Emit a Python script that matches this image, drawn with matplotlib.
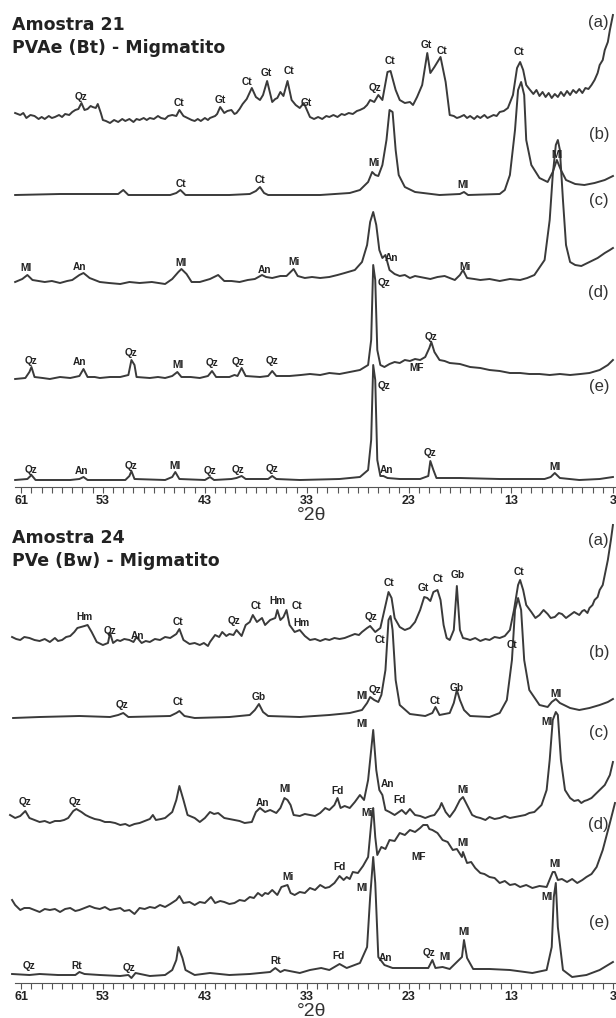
import numpy as np
import matplotlib
matplotlib.use('Agg')
import matplotlib.pyplot as plt
from matplotlib.ticker import FixedLocator

plt.rcParams['font.family'] = ['Liberation Sans', 'DejaVu Sans']

# ------------------------------------------------------------------
# diffractogram data: (2theta, relative intensity)
# ------------------------------------------------------------------
A21_a = [(61.6, 5), (61.1, 3), (60.8, 5), (60.5, 0), (60.1, 3), (59.7, 2), (59.3, -1), (59.0, 1),
         (58.7, -1), (58.3, 2), (58.0, 0), (57.7, 1), (57.3, 3), (57.0, 1), (56.7, 4), (56.3, 3),
         (56.0, 6), (55.7, 8), (55.4, 9), (55.1, 15), (54.8, 8), (54.5, 9), (54.2, 12), (54.0, 11),
         (53.7, 10), (53.5, 14), (53.2, 5), (53.0, -2), (52.7, -3), (52.3, -5), (51.9, -2), (51.5, -4),
         (51.1, -1), (50.8, -3), (50.4, -1), (50.0, -4), (49.7, -1), (49.4, -2), (49.0, 0), (48.7, -2),
         (48.4, 0), (48.0, -1), (47.6, 2), (47.3, 0), (46.9, -1), (46.6, 2), (46.2, 3), (45.8, 2),
         (45.5, 8), (45.1, 2), (44.7, 0), (44.3, -2), (44.0, -3), (43.7, -1), (43.4, -3), (43.0, 0),
         (42.7, -2), (42.5, 0), (42.0, 2), (41.8, 4), (41.5, 11), (41.1, 5), (40.8, 7), (40.4, 8),
         (40.1, 4), (39.9, 5), (39.6, 9), (39.3, 14), (38.9, 19), (38.4, 30), (38.0, 21), (37.6, 18),
         (37.3, 23), (36.9, 37), (36.4, 16), (36.1, 19), (35.9, 20), (35.6, 26), (35.3, 22), (34.9, 37),
         (34.5, 18), (34.1, 13), (33.7, 10), (33.3, 15), (33.0, 8), (32.7, 1), (32.3, -1), (31.9, 1),
         (31.5, -1), (31.1, 2), (30.8, 1), (30.4, 3), (30.0, 1), (29.6, 4), (29.3, 3), (28.9, 5),
         (28.5, 4), (28.1, 7), (27.8, 8), (27.4, 10), (27.1, 13), (26.8, 18), (26.4, 16), (26.0, 23),
         (25.6, 18), (25.1, 46), (24.8, 47), (24.3, 28), (23.9, 18), (23.4, 15), (22.9, 16), (22.6, 13),
         (22.2, 21), (21.7, 33), (21.2, 65), (20.9, 45), (20.5, 51), (19.9, 61), (19.4, 36), (19.0, 3),
         (18.6, 2), (18.3, 0), (18.0, 1), (17.6, 3), (17.3, 0), (17.0, 2), (16.6, -1), (16.3, 2),
         (16.0, 0), (15.6, 3), (15.3, 0), (15.1, 1), (14.7, 3), (14.4, 2), (14.1, 6), (13.7, 7),
         (13.3, 10), (12.8, 23), (12.4, 50), (12.1, 56), (11.8, 48), (11.5, 33), (11.2, 29), (10.8, 24),
         (10.5, 28), (10.2, 22), (9.9, 26), (9.6, 21), (9.3, 25), (9.0, 20), (8.7, 24), (8.4, 21),
         (8.1, 26), (7.8, 22), (7.5, 27), (7.2, 23), (6.9, 28), (6.6, 25), (6.3, 29), (6.0, 25),
         (5.7, 30), (5.4, 29), (5.1, 33), (4.8, 38), (4.5, 45), (4.3, 53), (4.0, 58), (3.8, 68),
         (3.5, 76), (3.3, 88), (3.0, 103)]
A21_b = [(61.6, 0), (57.2, 1), (53.3, 1), (51.5, 1), (51.0, 5), (50.5, 0), (46.4, 0), (45.8, 2),
         (45.4, 5), (44.9, 0), (40.6, 0), (38.6, 1), (38.0, 4), (37.6, 8), (37.2, 2), (36.8, 0),
         (31.7, 0), (28.8, 2), (27.8, 5), (27.0, 13), (26.6, 23), (26.3, 20), (26.0, 19), (25.6, 30),
         (25.2, 55), (24.9, 85), (24.6, 83), (24.3, 45), (24.0, 20), (23.4, 8), (22.4, 3), (20.0, 0),
         (18.0, 1), (17.6, 3), (17.2, 0), (14.1, 1), (13.6, 5), (13.1, 20), (12.6, 65), (12.3, 105),
         (12.0, 113), (11.7, 100), (11.5, 55), (11.0, 30), (10.2, 17), (9.4, 13), (8.9, 23), (8.5, 35),
         (8.1, 25), (7.6, 15), (6.7, 11), (5.8, 10), (4.8, 12), (3.8, 15), (3.0, 19)]
A21_c = [(61.6, -2), (60.9, 1), (60.4, 5), (59.9, 0), (59.3, -1), (58.7, -2), (58.0, -1), (57.2, -3),
         (56.5, -1), (56.0, 0), (55.3, 5), (54.9, 7), (54.3, 2), (53.8, 0), (53.3, -2), (52.4, -3),
         (51.3, -4), (50.4, -2), (49.4, -3), (48.2, -2), (46.9, -4), (46.2, 1), (45.6, 8), (45.3, 11),
         (44.8, 6), (44.3, -2), (43.5, -2), (42.5, 1), (41.7, 5), (41.1, -1), (40.4, -1), (39.6, -2),
         (38.8, 0), (38.1, 1), (37.4, 5), (37.0, 3), (36.4, 2), (35.6, 4), (35.0, 4), (34.3, 11),
         (33.9, 4), (33.2, 2), (32.5, 3), (31.7, 2), (30.8, 3), (30.0, 5), (29.3, 7), (28.3, 10),
         (27.6, 18), (27.1, 35), (26.8, 58), (26.5, 68), (26.2, 55), (25.9, 30), (25.6, 22), (25.3, 25),
         (24.9, 10), (24.4, 6), (23.9, 4), (23.4, 5), (22.9, 2), (22.4, 4), (21.9, 3), (21.4, 2),
         (20.9, 1), (20.2, 3), (19.5, 4), (18.5, 0), (18.0, 5), (17.7, 10), (17.3, 2), (16.6, 1),
         (16.0, 0), (15.1, 1), (14.1, -1), (13.1, 1), (12.1, 0), (11.4, 2), (10.7, 5), (9.7, 20),
         (9.2, 60), (8.9, 105), (8.6, 135), (8.4, 140), (8.2, 130), (7.9, 80), (7.6, 35), (7.2, 18),
         (6.7, 15), (6.1, 14), (5.3, 18), (4.5, 22), (3.8, 27), (3.3, 30), (3.0, 32)]
A21_d = [(61.6, -1), (60.6, 0), (60.2, 6), (60.0, 11), (59.7, 1), (58.9, 0), (58.2, -1), (57.2, 1),
         (56.2, 0), (55.3, 2), (54.9, 9), (54.5, 1), (53.8, 1), (53.3, 0), (52.3, 1), (51.3, 1),
         (50.5, 3), (50.2, 18), (49.9, 13), (49.7, 1), (48.4, 0), (47.6, 1), (46.9, 0), (46.2, 2),
         (45.7, 6), (45.3, 1), (44.4, 1), (43.5, 0), (42.7, 2), (42.3, 7), (41.9, 1), (40.6, 1),
         (40.1, 3), (39.8, 2), (39.4, 10), (39.0, 2), (37.6, 1), (36.8, 2), (36.4, 7), (36.0, 2),
         (34.7, 2), (33.6, 3), (32.7, 4), (31.7, 3), (30.8, 5), (29.8, 4), (28.8, 6), (27.8, 8),
         (27.0, 13), (26.7, 38), (26.5, 113), (26.3, 98), (26.1, 28), (25.8, 13), (25.4, 11), (24.9, 14),
         (24.4, 16), (23.9, 15), (23.4, 18), (22.9, 17), (22.4, 19), (21.9, 18), (21.4, 21), (21.0, 30),
         (20.8, 36), (20.5, 26), (20.0, 18), (19.5, 17), (19.0, 15), (18.0, 14), (17.0, 11), (16.0, 10),
         (15.1, 8), (14.1, 7), (13.1, 5), (12.1, 5), (11.2, 4), (10.2, 4), (9.2, 3), (8.2, 4),
         (7.2, 3), (6.2, 4), (5.3, 5), (4.3, 8), (3.5, 13), (3.0, 18)]
A21_e = [(61.6, 0), (60.4, 1), (60.0, 5), (59.6, 0), (56.2, 0), (55.3, 1), (54.9, 3), (54.5, 0),
         (50.8, 0), (50.4, 4), (50.2, 9), (49.9, 1), (46.9, 0), (46.2, 3), (45.9, 8), (45.5, 1),
         (43.0, 0), (42.5, 3), (42.1, 0), (40.4, 1), (39.9, 2), (39.4, 4), (39.0, 1), (36.8, 1),
         (36.4, 4), (36.0, 1), (33.7, 0), (29.8, 1), (27.8, 3), (27.0, 10), (26.7, 40), (26.5, 115),
         (26.3, 100), (26.1, 20), (25.8, 4), (25.5, 4), (25.1, 2), (23.9, 1), (21.9, 1), (21.1, 4),
         (20.9, 19), (20.6, 10), (20.3, 2), (18.0, 2), (14.1, 1), (9.7, 1), (9.1, 3), (8.7, 7),
         (8.2, 2), (6.3, 0), (4.3, 1), (3.0, 3)]

A24_a = [(61.9, 3), (61.5, 1), (61.1, 0), (60.7, 3), (60.2, 2), (59.7, 0), (59.2, -1), (58.7, 1),
         (58.2, -2), (57.7, 2), (57.4, -1), (57.0, 0), (56.6, 3), (56.2, 4), (55.8, 8), (55.5, 12),
         (54.8, 14), (54.5, 15), (54.1, 8), (53.6, -2), (53.0, -5), (52.5, -3), (52.3, 7), (52.0, -3),
         (51.6, 0), (51.3, -1), (50.9, 1), (50.4, 0), (50.0, -2), (49.7, 3), (49.2, -3), (48.8, -1),
         (48.4, -2), (47.9, 1), (47.4, 0), (46.9, 3), (46.4, 2), (45.8, 6), (45.5, 11), (45.1, 0),
         (44.8, -2), (44.5, -4), (44.0, -3), (43.5, -5), (43.1, -3), (42.7, -6), (42.5, -2), (42.0, 5),
         (41.6, 3), (41.3, 8), (40.9, 4), (40.6, 6), (40.2, 5), (39.9, 10), (39.4, 4), (39.0, 15),
         (38.6, 18), (38.3, 25), (37.9, 18), (37.4, 22), (37.1, 15), (36.6, 20), (36.1, 22), (35.9, 30),
         (35.6, 20), (35.3, 23), (35.0, 30), (34.7, 15), (34.2, 8), (33.7, 10), (33.2, 4), (32.7, 0),
         (32.2, 1), (31.7, -1), (31.2, 1), (30.8, 0), (30.3, 2), (29.8, 1), (29.3, 2), (28.8, 4),
         (28.3, 6), (27.9, 5), (27.6, 8), (27.1, 12), (26.8, 14), (26.3, 8), (25.8, 12), (25.4, 30),
         (25.0, 48), (24.7, 42), (24.4, 22), (23.9, 13), (23.4, 10), (22.9, 12), (22.4, 18), (21.9, 30),
         (21.5, 43), (21.2, 42), (20.9, 39), (20.6, 48), (20.2, 50), (19.9, 40), (19.6, 15), (19.3, 2),
         (19.0, 0), (18.6, 10), (18.3, 54), (18.0, 10), (17.7, 2), (17.3, 1), (17.0, 0), (16.5, 2),
         (16.0, -1), (15.5, 1), (15.1, 0), (14.6, 3), (14.1, 2), (13.6, 4), (13.1, 10), (12.7, 30),
         (12.3, 55), (12.1, 60), (11.8, 50), (11.5, 35), (11.0, 28), (10.6, 22), (10.2, 25), (9.8, 30),
         (9.4, 26), (9.1, 22), (8.7, 23), (8.3, 27), (8.0, 26), (7.6, 22), (7.2, 25), (6.8, 28),
         (6.3, 25), (6.0, 29), (5.8, 30), (5.5, 27), (5.3, 32), (5.0, 35), (4.8, 40), (4.5, 43),
         (4.3, 50), (4.0, 55), (3.8, 65), (3.5, 80), (3.2, 100), (3.0, 115)]
A24_b = [(61.8, -1), (59.2, 0), (55.3, 1), (52.3, 0), (51.5, 2), (51.0, 4), (50.5, 0), (46.4, 1),
         (45.8, 4), (45.5, 6), (45.0, 1), (44.0, -1), (40.6, 0), (38.6, 2), (38.1, 7), (37.7, 13),
         (37.3, 5), (36.8, 1), (33.7, 0), (30.8, 2), (28.8, 4), (27.6, 7), (27.1, 14), (26.8, 20),
         (26.4, 17), (26.0, 15), (25.7, 22), (25.3, 47), (25.0, 97), (24.8, 101), (24.6, 87), (24.3, 37),
         (23.9, 12), (22.9, 3), (21.4, 1), (20.7, 4), (20.4, 10), (20.0, 2), (19.0, 4), (18.6, 14),
         (18.3, 27), (18.0, 17), (17.6, 7), (17.0, 1), (15.1, 0), (14.1, 4), (13.4, 17), (12.9, 57),
         (12.6, 107), (12.3, 119), (12.0, 107), (11.7, 57), (11.2, 27), (10.2, 12), (9.4, 10), (9.0, 15),
         (8.6, 18), (8.2, 14), (7.2, 9), (6.3, 7), (5.3, 9), (4.3, 12), (3.5, 15), (3.0, 18)]
A24_c = [(62.1, 5), (61.6, 2), (61.1, 4), (60.6, 9), (60.2, 2), (59.7, 0), (59.2, -2), (58.7, -1),
         (58.2, -3), (57.7, -1), (57.2, -1), (56.8, 0), (56.4, 2), (55.9, 9), (55.6, 11), (55.1, 8),
         (54.7, 5), (54.3, 3), (53.8, 1), (53.3, 0), (52.8, -2), (52.3, -2), (51.8, -3), (51.3, -5),
         (50.8, -4), (50.4, -6), (49.9, -4), (49.4, -3), (48.9, -1), (48.4, 1), (48.1, 5), (47.8, 0),
         (47.3, 1), (46.9, 2), (46.2, 8), (45.8, 20), (45.5, 34), (45.1, 20), (44.7, 5), (44.0, 2),
         (43.5, -2), (43.0, 2), (42.5, 8), (42.1, 6), (41.7, 7), (41.1, 2), (40.6, 1), (40.1, 0),
         (39.6, -1), (39.1, -3), (38.4, -2), (38.0, 8), (37.6, 12), (37.1, 8), (36.6, 10), (36.0, 7),
         (35.6, 12), (35.2, 22), (34.9, 20), (34.6, 15), (34.3, 5), (33.7, 4), (33.2, 6), (32.7, 5),
         (32.2, 4), (31.7, 7), (31.2, 12), (30.8, 10), (30.3, 15), (30.0, 22), (29.7, 12), (29.3, 14),
         (28.8, 12), (28.3, 18), (27.8, 25), (27.4, 20), (27.0, 40), (26.7, 70), (26.5, 90), (26.2, 50),
         (25.9, 30), (25.6, 25), (25.3, 10), (24.9, 8), (24.4, 5), (23.7, 10), (23.3, 6), (22.9, 11),
         (22.4, 5), (21.9, 4), (21.4, 2), (20.9, 4), (20.5, 5), (20.0, 12), (19.8, 17), (19.4, 8),
         (19.0, 3), (18.5, 10), (18.0, 20), (17.7, 23), (17.3, 15), (16.8, 5), (16.4, 3), (16.0, 2),
         (15.5, 0), (15.1, 3), (14.6, 1), (14.1, 2), (13.6, 4), (13.1, 2), (12.6, 3), (12.1, 4),
         (11.6, 5), (11.2, 7), (10.7, 8), (10.0, 15), (9.5, 30), (9.2, 60), (8.9, 100), (8.6, 108),
         (8.4, 105), (8.1, 60), (7.7, 30), (7.2, 22), (6.8, 19), (6.4, 20), (6.1, 17), (5.8, 19),
         (5.5, 20), (5.1, 22), (4.8, 25), (4.3, 30), (3.8, 35), (3.3, 45), (3.0, 58)]
A24_d = [(61.9, 7), (61.6, 2), (61.1, -3), (60.7, -1), (60.2, -1), (59.7, -3), (59.2, -5), (58.7, -2),
         (58.2, -3), (57.7, -2), (57.2, -5), (56.7, -2), (56.2, -1), (55.7, -4), (55.3, -3), (54.8, -1),
         (54.3, 1), (53.8, -1), (53.3, -2), (52.8, 0), (52.3, -3), (51.8, -2), (51.3, -1), (50.9, -4),
         (50.4, -3), (49.9, -7), (49.4, -1), (48.9, -2), (48.4, 0), (47.9, -1), (47.4, 2), (46.9, 0),
         (46.4, 3), (45.8, 7), (45.5, 11), (45.1, 4), (44.5, 5), (44.0, 2), (43.5, 5), (43.0, 4),
         (42.4, 10), (42.0, 4), (41.5, 6), (41.1, 5), (40.6, 3), (40.1, 4), (39.6, 7), (39.1, 6),
         (38.6, 10), (38.2, 9), (37.8, 14), (37.4, 11), (37.1, 14), (36.8, 13), (36.4, 17), (35.9, 12),
         (35.5, 20), (34.9, 22), (34.6, 14), (34.2, 12), (33.7, 15), (33.2, 14), (32.7, 19), (32.2, 17),
         (31.7, 22), (31.2, 19), (30.8, 20), (30.3, 24), (29.8, 31), (29.4, 27), (29.1, 30), (28.8, 28),
         (28.5, 35), (28.0, 34), (27.5, 41), (27.0, 50), (26.6, 94), (26.5, 99), (26.3, 70), (26.1, 52),
         (25.7, 60), (25.3, 58), (24.9, 67), (24.4, 66), (23.9, 74), (23.4, 72), (22.9, 77), (22.4, 75),
         (21.9, 79), (21.6, 82), (21.2, 82), (21.0, 78), (20.7, 77), (20.2, 74), (19.7, 67), (19.2, 65),
         (18.7, 57), (18.3, 58), (17.8, 50), (17.7, 55), (17.3, 44), (16.9, 45), (16.5, 39), (16.0, 34),
         (15.6, 33), (15.1, 30), (14.6, 29), (14.1, 24), (13.6, 26), (13.1, 22), (12.6, 23), (12.1, 20),
         (11.5, 22), (10.9, 19), (10.2, 21), (9.5, 20), (8.9, 35), (8.7, 35), (8.4, 27), (8.0, 28),
         (7.5, 25), (7.0, 28), (6.5, 24), (6.0, 27), (5.6, 30), (5.1, 33), (4.6, 40), (4.0, 57),
         (3.3, 84), (2.8, 104)]
A24_e = [(61.9, 1), (60.2, 0), (59.2, 1), (57.4, 0), (55.7, 0), (55.3, 3), (54.8, 1), (53.3, 0),
         (51.3, -1), (50.5, 0), (50.2, -3), (49.8, 2), (48.4, -1), (46.9, 0), (46.2, 5), (45.8, 15),
         (45.6, 28), (45.2, 17), (44.9, 5), (44.0, 0), (42.5, 2), (40.6, 0), (38.6, 1), (36.6, 3),
         (36.1, 7), (35.6, 3), (35.2, 5), (33.7, 2), (32.7, 5), (31.6, 7), (30.8, 5), (29.8, 11),
         (29.1, 7), (27.8, 12), (27.1, 28), (26.8, 78), (26.5, 118), (26.3, 92), (26.0, 18), (25.4, 10),
         (24.6, 7), (22.9, 7), (21.1, 7), (20.7, 15), (20.4, 7), (19.7, 8), (19.0, 6), (17.8, 18),
         (17.6, 35), (17.3, 17), (16.7, 6), (15.1, 6), (13.1, 5), (10.9, 2), (9.5, 5), (9.0, 28),
         (8.8, 78), (8.6, 92), (8.4, 48), (7.9, 5), (7.0, -2), (5.6, 0), (4.3, 5), (3.0, 13)]

TRACE_NAMES = ['(a)', '(b)', '(c)', '(d)', '(e)']

# mineral labels: (2theta, height above axis, text)
A21_labels = [(55.1, 390, 'Qz'), (45.5, 384, 'Ct'), (41.5, 387, 'Gt'), (38.9, 405, 'Ct'), (37.0, 414, 'Gt'),
              (34.8, 416, 'Ct'), (33.1, 384, 'Gt'), (26.3, 399, 'Qz'), (24.9, 426, 'Ct'), (21.3, 442, 'Gt'),
              (19.8, 436, 'Ct'), (12.2, 435, 'Ct'),
              (45.3, 303, 'Ct'), (37.6, 307, 'Ct'), (26.4, 324, 'Mi'), (17.7, 302, 'Ml'), (8.5, 332, 'Ml'),
              (60.5, 219, 'Ml'), (55.3, 220, 'An'), (45.3, 224, 'Ml'), (37.2, 217, 'An'), (34.3, 225, 'Mi'),
              (24.7, 229, 'An'), (17.5, 220, 'Mi'),
              (60.0, 126, 'Qz'), (55.3, 125, 'An'), (50.2, 134, 'Qz'), (45.6, 122, 'Ml'), (42.3, 124, 'Qz'),
              (39.8, 125, 'Qz'), (36.4, 126, 'Qz'), (25.4, 204, 'Qz'), (20.8, 150, 'Qz'), (22.2, 119, 'MF'),
              (60.0, 17, 'Qz'), (55.1, 16, 'An'), (50.2, 21, 'Qz'), (45.9, 21, 'Ml'), (42.5, 16, 'Qz'),
              (39.8, 17, 'Qz'), (36.4, 18, 'Qz'), (25.4, 101, 'Qz'), (25.2, 17, 'An'), (20.9, 34, 'Qz'),
              (8.7, 20, 'Ml')]
A24_labels = [(54.8, 366, 'Hm'), (52.3, 352, 'Qz'), (49.6, 347, 'An'), (45.6, 361, 'Ct'), (40.1, 362, 'Qz'),
              (38.0, 377, 'Ct'), (35.9, 382, 'Hm'), (34.0, 377, 'Ct'), (33.5, 360, 'Hm'), (26.7, 366, 'Qz'),
              (25.0, 400, 'Ct'), (21.6, 395, 'Gt'), (20.2, 404, 'Ct'), (18.2, 408, 'Gb'), (12.2, 411, 'Ct'),
              (51.1, 278, 'Qz'), (45.6, 281, 'Ct'), (37.7, 286, 'Gb'), (25.8, 343, 'Ct'), (12.9, 338, 'Ct'),
              (27.6, 287, 'Ml'), (26.3, 293, 'Qz'), (20.4, 282, 'Ct'), (18.3, 295, 'Gb'), (8.6, 289, 'Ml'),
              (60.6, 181, 'Qz'), (55.7, 181, 'Qz'), (37.4, 180, 'An'), (35.1, 194, 'Ml'), (30.0, 192, 'Fd'),
              (27.6, 259, 'Ml'), (25.1, 199, 'An'), (23.9, 183, 'Fd'), (17.7, 193, 'Mi'), (9.5, 261, 'Ml'),
              (34.9, 106, 'Mi'), (29.8, 116, 'Fd'), (27.1, 170, 'Mi'), (22.0, 126, 'MF'), (17.7, 140, 'Ml'),
              (8.7, 119, 'Ml'),
              (60.2, 17, 'Qz'), (55.6, 17, 'Rt'), (50.4, 15, 'Qz'), (36.1, 22, 'Rt'), (29.9, 27, 'Fd'),
              (27.6, 95, 'Ml'), (25.3, 25, 'An'), (21.0, 30, 'Qz'), (19.5, 26, 'Ml'), (17.6, 51, 'Ml'),
              (9.5, 86, 'Ml')]

A21_offsets = [369, 292, 207, 109, 7]
A24_offsets = [343, 266, 163, 76, 8]

tick_major = [61, 53, 43, 33, 23, 13, 3]

W, H = 616, 1018
fig = plt.figure(figsize=(W / 100, H / 100), dpi=100)


def px(x, y):
    return x / W, 1 - y / H


def panel(top, axis_y, traces, offsets, labels, title1, title2, title_y, name_ys):
    ax = fig.add_axes([8 / W, 1 - axis_y / H, 608 / W, (axis_y - top) / H])
    ax.patch.set_alpha(0)
    ax.set_xlim(62.3, 2.7)
    ax.set_ylim(0, axis_y - top)
    for tr, off in zip(traces, offsets):
        d = np.array(tr, dtype=float)
        ax.plot(d[:, 0], d[:, 1] + off, color='#3a3a3a', lw=1.4, clip_on=False)
    for xt, yt, s in labels:
        ax.text(xt, yt, s, ha='center', va='center', fontsize=7.3, fontweight='bold', color='#222222')
    for sp in ['left', 'right', 'top']:
        ax.spines[sp].set_visible(False)
    ax.spines['bottom'].set_bounds(61.6, 2.7)
    ax.spines['bottom'].set_color('#555555')
    ax.set_yticks([])
    ax.xaxis.set_major_locator(FixedLocator(tick_major))
    ax.xaxis.set_minor_locator(FixedLocator(np.arange(3, 62, 1)))
    ax.set_xticklabels([str(t) for t in tick_major], fontsize=9, fontweight='bold', color='#222222')
    ax.tick_params(axis='x', which='both', direction='out', length=4, width=0.8, color='#555555', pad=2)
    fig.text(*px(312, axis_y + 28), '\u00b02\u03b8', ha='center', va='center', fontsize=14, color='#333333')
    fig.text(*px(12, title_y), title1, ha='left', va='center', fontsize=12.5, fontweight='bold',
             color='#222222', family='DejaVu Sans')
    fig.text(*px(12, title_y + 23), title2, ha='left', va='center', fontsize=12.5, fontweight='bold',
             color='#222222', family='DejaVu Sans')
    for nm, ny in zip(TRACE_NAMES, name_ys):
        fig.text(*px(609, ny), nm, ha='right', va='center', fontsize=12, color='#333333')
    return ax


panel(0, 487, [A21_a, A21_b, A21_c, A21_d, A21_e], A21_offsets, A21_labels,
      'Amostra 21', 'PVAe (Bt) - Migmatito', 25, [22, 134, 201, 292, 387])
panel(500, 983, [A24_a, A24_b, A24_c, A24_d, A24_e], A24_offsets, A24_labels,
      'Amostra 24', 'PVe (Bw) - Migmatito', 538, [541, 653, 732, 825, 922])

fig.savefig('out.png', dpi=100)
